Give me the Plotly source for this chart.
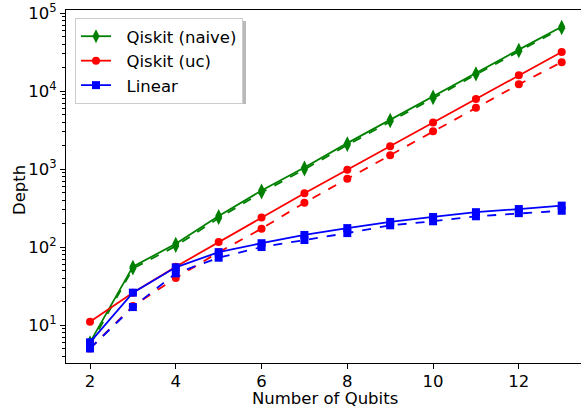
import plotly.graph_objects as go

qubits = [2, 3, 4, 5, 6, 7, 8, 9, 10, 11, 12, 13]

naive_solid = [6, 56, 110, 250, 530, 1050, 2150, 4300, 8500, 17000, 34000, 67000]
naive_dashed = [5.5, 53, 103, 235, 500, 990, 2030, 4100, 8100, 16300, 32500, 64000]

uc_solid = [11, 26, 56, 116, 240, 490, 980, 1960, 3950, 7900, 16000, 31800]
uc_dashed = [5, 17.5, 40, 86, 172, 370, 750, 1500, 3050, 6100, 12200, 23500]

lin_solid = [6, 26, 55, 86, 112, 143, 175, 210, 243, 280, 307, 340]
lin_dashed = [5, 17, 46, 73, 100, 123, 151, 190, 214, 248, 272, 292]

x_ticks = [2, 4, 6, 8, 10, 12]
y_ticks = [10, 100, 1000, 10000, 100000]
y_ticktext = ["10<sup>1</sup>", "10<sup>2</sup>", "10<sup>3</sup>", "10<sup>4</sup>", "10<sup>5</sup>"]
y_minor = [m * 10 ** e for e in range(0, 5) for m in range(2, 10)]

GREEN = "#008000"
RED = "#ff0000"
BLUE = "#0000ff"

FONT = "DejaVu Sans"
FS = 16.5
PAD = "\u00a0\u00a0"

fig = go.Figure()

def add(x, y, name, color, symbol, msize, dash, show):
    fig.add_trace(go.Scatter(
        x=x, y=y, name=PAD + name, mode="lines+markers",
        line=dict(color=color, width=1.8, dash=dash),
        marker=dict(symbol=symbol, size=msize, color=color),
        showlegend=show, legendgroup=name,
    ))

add(qubits, naive_solid, "Qiskit (naive)", GREEN, "diamond-tall", 10, "solid", True)
add(qubits, naive_dashed, "Qiskit (naive)", GREEN, "diamond-tall", 10, "dash", False)
add(qubits, uc_solid, "Qiskit (uc)", RED, "circle", 8, "solid", True)
add(qubits, uc_dashed, "Qiskit (uc)", RED, "circle", 8, "dash", False)
add(qubits, lin_solid, "Linear", BLUE, "square", 8, "solid", True)
add(qubits, lin_dashed, "Linear", BLUE, "square", 8, "dash", False)

W, H = 581, 408
ml, mr, mt, mb = 66, 0, 10, 45
pw, ph = W - ml - mr, H - mt - mb

def px_x(p):
    return (p - ml) / pw

def px_y(p):
    return (H - mb - p) / ph

# legend shadow (offset copy of the legend box)
lx0, lx1, ly0, ly1 = 75, 243, 18, 101
off = 3
fig.add_shape(type="rect", xref="paper", yref="paper",
              x0=px_x(lx0 + off), x1=px_x(lx1 + off),
              y0=px_y(ly1 + off), y1=px_y(ly0 + off),
              fillcolor="rgba(128,128,128,0.55)", line=dict(width=0), layer="above")

fig.add_annotation(text="Number of Qubits", xref="paper", yref="paper",
                   x=0.5 * (px_x(252) + px_x(397)), y=px_y(398), xanchor="center", yanchor="middle",
                   showarrow=False, font=dict(family=FONT, size=FS, color="black"))
fig.add_annotation(text="Depth", xref="paper", yref="paper",
                   x=px_x(19), y=px_y(190), xanchor="center", yanchor="middle", textangle=-90,
                   showarrow=False, font=dict(family=FONT, size=FS, color="black"))

fig.update_layout(
    width=W, height=H,
    margin=dict(l=ml, r=mr, t=mt, b=mb, autoexpand=False),
    paper_bgcolor="white", plot_bgcolor="white",
    font=dict(family=FONT, size=FS, color="black"),
    showlegend=True,
    legend=dict(
        x=px_x(lx0), y=px_y(ly0), xanchor="left", yanchor="top",
        bgcolor="white", bordercolor="#cccccc", borderwidth=1,
        font=dict(family=FONT, size=FS, color="black"),
        tracegroupgap=0,
    ),
    xaxis=dict(
        range=[1.44, 13.45], tickvals=x_ticks,
        ticks="outside", ticklen=5, tickcolor="black", tickwidth=1,
        ticklabelstandoff=-2,
        showline=True, linecolor="black", linewidth=1.2, mirror=True,
        showgrid=False, zeroline=False, automargin=False,
        tickfont=dict(family=FONT, size=FS, color="black"),
    ),
    yaxis=dict(
        type="log", range=[0.513, 5.04],
        tickvals=y_ticks, ticktext=y_ticktext,
        ticks="outside", ticklen=5, tickcolor="black", tickwidth=1,
        minor=dict(tickvals=y_minor, ticks="outside", ticklen=3, tickcolor="black", showgrid=False),
        showline=True, linecolor="black", linewidth=1.2,
        showgrid=False, zeroline=False, automargin=False,
        tickfont=dict(family=FONT, size=FS, color="black"),
    ),
)

fig.write_html("out.html", config={"displayModeBar": False},
               post_script="document.body.style.margin='0';")
